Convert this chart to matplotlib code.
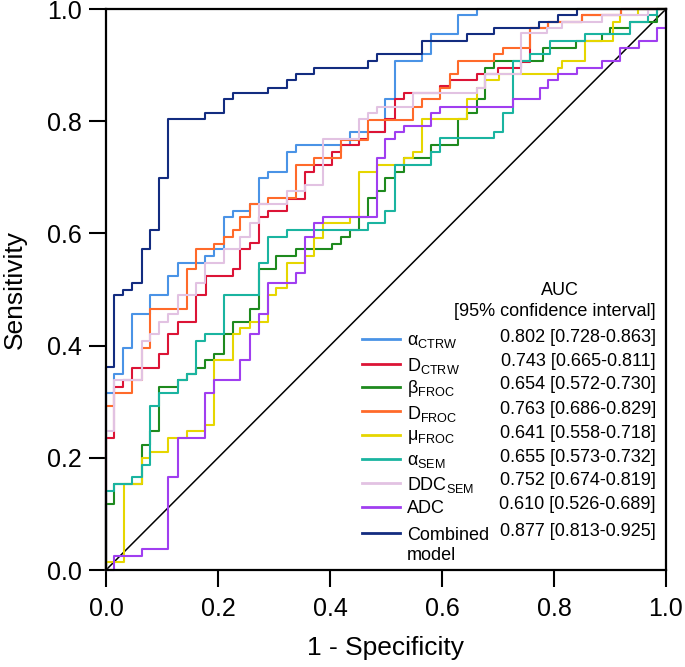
import matplotlib
matplotlib.use("Agg")
import matplotlib.pyplot as plt
from matplotlib.lines import Line2D

plt.rcParams['font.family'] = ['Liberation Sans', 'DejaVu Sans']
plt.rcParams['mathtext.fontset'] = 'custom'
plt.rcParams['mathtext.rm'] = 'Liberation Sans'

# ROC step vertices: (1 - specificity, sensitivity) after each rise
fpr_a_ctrw = [0, 0, 0.015, 0.031, 0.047, 0.079, 0.111, 0.128, 0.177, 0.193, 0.21, 0.226, 0.257, 0.274,
              0.29, 0.323, 0.339, 0.436, 0.499, 0.516, 0.564, 0.58, 0.629, 0.662, 1.0]
tpr_a_ctrw = [0, 0.315, 0.35, 0.396, 0.456, 0.49, 0.524, 0.548, 0.56, 0.572, 0.63, 0.64, 0.652, 0.698,
              0.71, 0.746, 0.758, 0.78, 0.839, 0.907, 0.92, 0.955, 0.989, 1.0, 1.0]

fpr_d_ctrw = [0, 0, 0.015, 0.031, 0.047, 0.095, 0.111, 0.128, 0.161, 0.179, 0.226, 0.24, 0.257, 0.274,
              0.29, 0.323, 0.355, 0.371, 0.403, 0.419, 0.451, 0.468, 0.499, 0.516, 0.532, 0.596, 0.614,
              0.662, 0.70, 0.742, 0.757, 0.789, 0.85, 0.92, 1.0]
tpr_d_ctrw = [0, 0.235, 0.327, 0.339, 0.361, 0.385, 0.421, 0.443, 0.49, 0.524, 0.536, 0.572, 0.583, 0.63,
              0.64, 0.662, 0.71, 0.722, 0.746, 0.758, 0.768, 0.78, 0.804, 0.839, 0.85, 0.862, 0.873,
              0.884, 0.895, 0.905, 0.966, 0.977, 0.989, 1.0, 1.0]

fpr_b_froc = [0, 0, 0.015, 0.064, 0.079, 0.095, 0.128, 0.144, 0.161, 0.177, 0.193, 0.21, 0.226, 0.257,
              0.274, 0.304, 0.339, 0.403, 0.419, 0.436, 0.451, 0.468, 0.484, 0.499, 0.516, 0.532, 0.58,
              0.629, 0.645, 0.662, 0.677, 0.693, 0.78, 0.84, 0.885, 0.9, 0.936, 0.984, 1.0]
tpr_b_froc = [0, 0.118, 0.153, 0.223, 0.247, 0.327, 0.339, 0.35, 0.361, 0.374, 0.385, 0.421, 0.443, 0.466,
              0.536, 0.56, 0.572, 0.582, 0.594, 0.606, 0.63, 0.664, 0.676, 0.698, 0.71, 0.734, 0.758,
              0.804, 0.815, 0.839, 0.895, 0.907, 0.931, 0.943, 0.955, 0.966, 0.977, 1.0, 1.0]

fpr_d_froc = [0, 0, 0.015, 0.047, 0.064, 0.079, 0.144, 0.161, 0.193, 0.21, 0.226, 0.24, 0.257, 0.29,
              0.339, 0.371, 0.419, 0.468, 0.548, 0.564, 0.596, 0.614, 0.629, 0.693, 0.709, 0.758, 0.789,
              0.85, 0.919, 1.0]
tpr_d_froc = [0, 0.292, 0.315, 0.339, 0.396, 0.466, 0.536, 0.572, 0.582, 0.594, 0.606, 0.63, 0.652, 0.664,
              0.722, 0.734, 0.766, 0.802, 0.826, 0.839, 0.86, 0.884, 0.907, 0.92, 0.931, 0.966, 0.977,
              0.989, 1.0, 1.0]

fpr_mu_froc = [0, 0, 0.032, 0.064, 0.079, 0.111, 0.144, 0.177, 0.193, 0.226, 0.24, 0.257, 0.29, 0.304,
               0.323, 0.355, 0.371, 0.387, 0.436, 0.451, 0.484, 0.532, 0.548, 0.564, 0.645, 0.662, 0.677,
               0.702, 0.808, 0.815, 0.855, 0.905, 0.918, 0.95, 1.0]
tpr_mu_froc = [0, 0.015, 0.153, 0.199, 0.211, 0.235, 0.247, 0.258, 0.374, 0.421, 0.432, 0.443, 0.49, 0.503,
               0.548, 0.56, 0.591, 0.618, 0.63, 0.71, 0.722, 0.734, 0.746, 0.804, 0.839, 0.86, 0.873,
               0.884, 0.895, 0.907, 0.943, 0.977, 0.989, 1.0, 1.0]

fpr_a_sem = [0, 0, 0.015, 0.047, 0.064, 0.079, 0.095, 0.128, 0.144, 0.161, 0.177, 0.21, 0.274, 0.29,
             0.323, 0.468, 0.499, 0.516, 0.58, 0.596, 0.693, 0.709, 0.726, 0.757, 0.793, 0.855, 0.936,
             0.968, 0.984, 1.0]
tpr_a_sem = [0, 0.141, 0.153, 0.165, 0.188, 0.292, 0.315, 0.339, 0.35, 0.409, 0.421, 0.49, 0.547, 0.594,
             0.606, 0.618, 0.64, 0.722, 0.746, 0.77, 0.781, 0.814, 0.907, 0.92, 0.943, 0.955, 0.977,
             0.989, 1.0, 1.0]

fpr_ddc_sem = [0, 0, 0.015, 0.064, 0.079, 0.095, 0.111, 0.128, 0.161, 0.177, 0.21, 0.24, 0.257, 0.274,
               0.323, 0.355, 0.387, 0.451, 0.468, 0.484, 0.548, 0.662, 0.677, 0.742, 0.787, 0.815, 0.885,
               0.968, 1.0]
tpr_ddc_sem = [0, 0.247, 0.339, 0.409, 0.421, 0.443, 0.456, 0.49, 0.512, 0.548, 0.572, 0.594, 0.618, 0.652,
               0.676, 0.687, 0.768, 0.804, 0.815, 0.826, 0.85, 0.86, 0.884, 0.957, 0.966, 0.977, 0.989,
               1.0, 1.0]

fpr_adc = [0, 0.015, 0.064, 0.111, 0.128, 0.177, 0.193, 0.24, 0.257, 0.274, 0.29, 0.339, 0.355, 0.371,
           0.387, 0.484, 0.499, 0.516, 0.532, 0.58, 0.596, 0.726, 0.775, 0.789, 0.807, 0.8405, 0.885,
           0.918, 0.951, 0.984, 1.0]
tpr_adc = [0, 0.025, 0.037, 0.165, 0.235, 0.315, 0.339, 0.374, 0.421, 0.456, 0.512, 0.529, 0.594, 0.618,
           0.63, 0.734, 0.768, 0.78, 0.792, 0.814, 0.826, 0.839, 0.86, 0.873, 0.884, 0.895, 0.907,
           0.931, 0.943, 0.966, 1.0]

fpr_comb = [0, 0, 0.015, 0.031, 0.047, 0.064, 0.079, 0.095, 0.111, 0.177, 0.21, 0.226, 0.29, 0.323,
            0.339, 0.371, 0.468, 0.484, 0.564, 0.645, 0.693, 0.774, 0.807, 0.8405, 1.0]
tpr_comb = [0, 0.362, 0.49, 0.50, 0.512, 0.572, 0.606, 0.698, 0.804, 0.815, 0.839, 0.85, 0.86, 0.873,
            0.884, 0.895, 0.907, 0.92, 0.943, 0.955, 0.966, 0.977, 0.989, 1.0, 1.0]

labels = [r'α$_\mathregular{CTRW}$', r'D$_\mathregular{CTRW}$', r'β$_\mathregular{FROC}$',
          r'D$_\mathregular{FROC}$', r'μ$_\mathregular{FROC}$', r'α$_\mathregular{SEM}$',
          r'DDC$_\mathregular{SEM}$', 'ADC', 'Combined\nmodel']
auc_text = ['0.802 [0.728-0.863]', '0.743 [0.665-0.811]', '0.654 [0.572-0.730]',
            '0.763 [0.686-0.829]', '0.641 [0.558-0.718]', '0.655 [0.573-0.732]',
            '0.752 [0.674-0.819]', '0.610 [0.526-0.689]', '0.877 [0.813-0.925]']
colors = ['#4a93e6', '#dc1436', '#1e8a1e', '#ff6a2a', '#e6d600', '#1ab4a0',
          '#e2c2e2', '#a03ef0', '#132c80']

curves = [(fpr_a_ctrw, tpr_a_ctrw), (fpr_d_ctrw, tpr_d_ctrw), (fpr_b_froc, tpr_b_froc),
          (fpr_d_froc, tpr_d_froc), (fpr_mu_froc, tpr_mu_froc), (fpr_a_sem, tpr_a_sem),
          (fpr_ddc_sem, tpr_ddc_sem), (fpr_adc, tpr_adc), (fpr_comb, tpr_comb)]

fig = plt.figure(figsize=(6.85, 6.67), dpi=100)
ax = fig.add_axes([0.1547, 0.1454, 0.8175, 0.841])

ax.plot([0, 1], [0, 1], color='black', lw=1.1, zorder=1)
for (fx, ty), c in zip(curves, colors):
    ax.plot(fx, ty, drawstyle='steps-post', color=c, lw=1.5, zorder=2, clip_on=False)

ax.set_xlim(0, 1)
ax.set_ylim(0, 1)
ax.set_xticks([0, 0.2, 0.4, 0.6, 0.8, 1.0])
ax.set_yticks([0, 0.2, 0.4, 0.6, 0.8, 1.0])
ax.set_xticklabels(['0.0', '0.2', '0.4', '0.6', '0.8', '1.0'])
ax.set_yticklabels(['0.0', '0.2', '0.4', '0.6', '0.8', '1.0'])
ax.tick_params(axis='both', direction='out', length=12.5, width=1.5, labelsize=18, color='black')
ax.tick_params(axis='x', pad=7)
ax.tick_params(axis='y', pad=5)
for s in ax.spines.values():
    s.set_linewidth(1.6)

ax.set_xlabel('1 - Specificity', fontsize=19)
ax.set_ylabel('Sensitivity', fontsize=19)
ax.xaxis.set_label_coords(0.5, -0.118)
ax.yaxis.set_label_coords(-0.142, 0.5)

# legend table
ax.text(0.811, 0.499, 'AUC', fontsize=13, ha='center', va='center', transform=ax.transAxes)
ax.text(0.982, 0.460, '[95% confidence interval]', fontsize=13, ha='right', va='center',
        transform=ax.transAxes)
row_y = [0.411, 0.368, 0.327, 0.283, 0.241, 0.198, 0.156, 0.113, 0.0654]
for yy, lab, val, c in zip(row_y, labels, auc_text, colors):
    ax.add_line(Line2D([0.4566, 0.525], [yy, yy], color=c, lw=2, transform=ax.transAxes))
    if '\n' in lab:
        ax.text(0.537, yy + 0.012, lab, fontsize=13, ha='left', va='top', linespacing=1.25,
                transform=ax.transAxes)
    else:
        ax.text(0.537, yy - 0.004, lab, fontsize=13, ha='left', va='center', transform=ax.transAxes)
    ax.text(0.982, yy + 0.003, val, fontsize=13, ha='right', va='center', transform=ax.transAxes)

fig.savefig('out.png', dpi=100)
